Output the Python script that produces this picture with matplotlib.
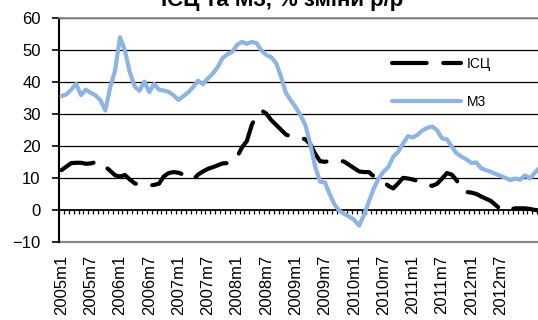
import numpy as np
import matplotlib
matplotlib.use("Agg")
import matplotlib.pyplot as plt

plt.rcParams['font.family'] = ['Liberation Sans', 'DejaVu Sans']

# monthly categories 2005m1 .. 2013m3
months = [f"{y}m{m}" for y in range(2005, 2014) for m in range(1, 13)][:99]
label_months = ["2005m1", "2005m7", "2006m1", "2006m7", "2007m1", "2007m7",
                "2008m1", "2008m7", "2009m1", "2009m7", "2010m1", "2010m7",
                "2011m1", "2011m7", "2012m1", "2012m7"]

cpi = [12.4, 13.5, 14.6, 14.7, 14.7, 14.4, 14.5, 14.9, 15.0, 13.5,
       12.2, 10.8, 10.4, 10.9, 9.5, 8.3, 7.8, 7.8, 7.6, 7.8,
       8.2, 10.5, 11.5, 11.8, 11.6, 11.0, 9.8, 9.5, 11.0, 12.0,
       12.8, 13.3, 13.9, 14.5, 14.6, 15.0, 16.5, 19.5, 21.5, 26.5,
       29.5, 31.0, 30.0, 28.0, 26.5, 25.0, 23.5, 22.9, 22.5, 22.5,
       22.0, 20.5, 17.5, 15.2, 15.0, 15.3, 15.7, 15.5, 15.0, 14.0,
       13.0, 12.0, 11.8, 11.8, 10.5, 9.8, 8.8, 7.5, 6.7, 8.3,
       10.0, 9.8, 9.5, 9.0, 8.5, 7.8, 7.5, 8.2, 9.8, 11.5,
       11.0, 9.2, 6.0, 5.6, 5.4, 5.0, 4.2, 3.5, 2.8, 1.5,
       0.2, -0.4, 0.2, 0.5, 0.5, 0.5, 0.3, 0.0, -0.2]

m3 = [35.5, 36.0, 37.5, 39.3, 35.8, 37.5, 36.5, 35.7, 34.2, 31.0,
      38.3, 43.5, 53.9, 49.7, 43.0, 38.5, 37.2, 40.0, 36.7, 39.3,
      37.5, 37.2, 36.8, 35.7, 34.3, 35.5, 36.7, 38.3, 40.3, 39.2,
      41.0, 42.5, 44.5, 47.3, 48.5, 49.3, 51.5, 52.4, 51.8, 52.4,
      52.0, 49.7, 48.3, 47.6, 45.8, 41.5, 36.5, 34.2, 32.0, 29.5,
      26.4, 20.5, 13.5, 8.8, 8.6, 4.8, 1.6, -0.3, -1.3, -2.1,
      -3.1, -4.9, -1.6, 2.6, 6.7, 9.8, 11.9, 13.4, 16.6, 18.1,
      20.7, 23.0, 22.6, 23.5, 24.8, 25.6, 26.0, 24.8, 22.3, 22.0,
      19.7, 17.6, 16.6, 15.8, 14.6, 14.8, 13.0, 12.4, 11.9, 11.2,
      10.6, 10.0, 9.3, 9.8, 9.4, 10.8, 9.8, 11.6, 13.2]

x = np.arange(len(months))
label_pos = [months.index(m) for m in label_months]

fig = plt.figure(figsize=(5.38, 3.2), dpi=100)
left, bottom, top = 59 / 538, 1 - 242 / 320, 1 - 17.5 / 320
ax = fig.add_axes([left, bottom, 1 - left, top - bottom])

ax.plot(x, cpi, color='black', lw=3.0, dashes=(8.3, 4.0),
        dash_capstyle='round', solid_capstyle='round', label='ІСЦ', zorder=3)
ax.plot(x, m3, color='#8DB4E2', lw=3.0, solid_capstyle='round',
        solid_joinstyle='round', label='М3', zorder=4)

ax.set_ylim(-10, 60)
ax.set_yticks(np.arange(-10, 61, 10))
ax.set_xlim(-0.5, 97.66)

for v in range(10, 61, 10):
    ax.axhline(v, color='black', lw=0.9, zorder=1)

# category axis sits on zero, month ticks hanging below
ax.spines['bottom'].set_position(('data', 0))
ax.spines['bottom'].set_color('black')
ax.spines['bottom'].set_linewidth(1.3)
ax.set_xticks(np.arange(-0.5, 98, 1))
ax.tick_params(axis='x', direction='out', length=2.6, width=0.9,
               labelbottom=False, color='black')

ax.spines['left'].set_linewidth(1.5)
ax.spines['right'].set_visible(False)
ax.spines['top'].set_color('#8a8a8a')
ax.spines['top'].set_linewidth(1.2)
ax.tick_params(axis='y', direction='out', length=4.7, width=1.2,
               pad=8.5, labelsize=12)

sec = ax.secondary_xaxis('bottom')
sec.set_xticks(label_pos, label_months, rotation=90, fontsize=12)
sec.tick_params(length=0, pad=9)
sec.spines['bottom'].set_color('#8a8a8a')
sec.spines['bottom'].set_linewidth(1.6)

ax.legend(loc='center left', bbox_to_anchor=(0.695, 0.708), frameon=False,
          fontsize=10, handlelength=5.0, handletextpad=0.4, labelspacing=1.7,
          borderpad=0, borderaxespad=0)

fig.text(0.524, 1 - 6 / 320, 'ІСЦ та М3, % зміни р/р', ha='center',
         va='baseline', fontsize=16, fontweight='bold')

fig.savefig('out.png', dpi=100)
